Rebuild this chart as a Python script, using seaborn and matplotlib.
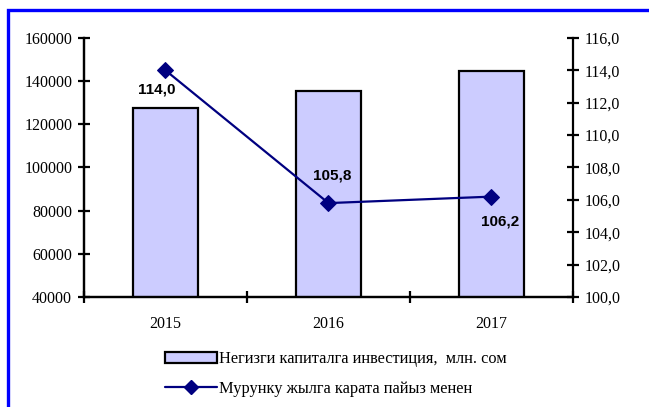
import matplotlib
matplotlib.use("Agg")
import matplotlib.pyplot as plt
import matplotlib.ticker as mticker
from matplotlib.lines import Line2D
from matplotlib.patches import Patch, Rectangle
import pandas as pd
import seaborn as sns


YEARS = ["2015", "2016", "2017"]
INVESTMENT = [127700, 135600, 144800]
GROWTH_PCT = [114.0, 105.8, 106.2]
BAR_LABEL = "Негизги капиталга инвестиция,  млн. сом"
LINE_LABEL = "Мурунку жылга карата пайыз менен"

BAR_COLOR = "#CCCCFF"
LINE_COLOR = "#000080"
FRAME_COLOR = "#0000FF"


def fmt_comma(v, _pos=None):
    return f"{v:.1f}".replace(".", ",")


def main() -> None:
    sns.set_theme(style="white")
    plt.rcParams["font.family"] = ["Liberation Serif", "DejaVu Serif"]
    plt.rcParams["text.color"] = "black"
    plt.rcParams["xtick.color"] = "black"
    plt.rcParams["ytick.color"] = "black"

    data = pd.DataFrame({"year": YEARS, "investment": INVESTMENT, "growth": GROWTH_PCT})
    data["pos"] = range(len(data))

    fig = plt.figure(figsize=(6.49, 4.07), dpi=100)
    ax = fig.add_axes([0.1294, 0.2703, 0.7535, 0.6364])

    sns.barplot(data=data, x="year", y="investment", color=BAR_COLOR, width=0.4,
                edgecolor="black", linewidth=1.6, saturation=1, ax=ax)
    ax.set_ylim(40000, 160000)
    ax.set_xlim(-0.5, 2.5)
    ax.set_xlabel("")
    ax.set_ylabel("")
    ax.yaxis.set_major_locator(mticker.MultipleLocator(20000))

    # category boundary ticks, labels on minor ticks
    ax.set_xticks([-0.5, 0.5, 1.5, 2.5])
    ax.set_xticklabels([])
    ax.set_xticks([0, 1, 2], minor=True)
    ax.set_xticklabels(YEARS, minor=True)
    ax.tick_params(axis="x", which="minor", length=0, pad=14, labelsize=11.5)
    ax.tick_params(axis="x", which="major", direction="inout", length=9, width=1.6,
                   color="black", bottom=True)
    ax.tick_params(axis="y", direction="inout", length=9, width=1.6, color="black",
                   left=True, labelsize=11.5, pad=4)
    ax.grid(False)

    ax2 = ax.twinx()
    sns.lineplot(data=data, x="pos", y="growth", color=LINE_COLOR, linewidth=1.6,
                 marker="D", markersize=8, markeredgecolor=LINE_COLOR, ax=ax2)
    ax2.set_ylim(100, 116)
    ax2.set_xlim(-0.5, 2.5)
    ax2.set_ylabel("")
    ax2.set_xlabel("")
    ax2.yaxis.set_major_locator(mticker.MultipleLocator(2))
    ax2.yaxis.set_major_formatter(mticker.FuncFormatter(fmt_comma))
    ax2.tick_params(axis="y", direction="inout", length=9, width=1.6, color="black",
                    right=True, labelsize=11.5, pad=4)
    ax2.grid(False)

    for a in (ax, ax2):
        a.spines["top"].set_visible(False)
        for side in ("left", "right", "bottom"):
            a.spines[side].set_color("black")
            a.spines[side].set_linewidth(1.6)
    ax.spines["right"].set_visible(False)

    label_offsets = [(-6, -14), (3, 20), (6, -18)]
    for x, y, off in zip(data["pos"], GROWTH_PCT, label_offsets):
        ax2.annotate(fmt_comma(y), (x, y), xytext=off, textcoords="offset points",
                     ha="center", va="center", fontsize=11, fontweight="bold",
                     color="black", family=["Liberation Sans", "DejaVu Sans"])

    handles = [
        Patch(facecolor=BAR_COLOR, edgecolor="black", linewidth=1.6, label=BAR_LABEL),
        Line2D([], [], color=LINE_COLOR, linewidth=1.6, marker="D", markersize=7,
               label=LINE_LABEL),
    ]
    fig.legend(handles=handles, loc="upper left", bbox_to_anchor=(0.254, 0.137),
               frameon=False, fontsize=11.8, handlelength=3.2, handletextpad=0.1,
               labelspacing=0.85, borderpad=0, borderaxespad=0)

    frame = Rectangle((8 / 649, -0.2), 1.2, 1.2 - 10 / 407, transform=fig.transFigure,
                      fill=False, edgecolor=FRAME_COLOR, linewidth=2.4, zorder=10)
    fig.add_artist(frame)

    fig.savefig("out.png", dpi=100)
    plt.close(fig)


if __name__ == "__main__":
    main()
